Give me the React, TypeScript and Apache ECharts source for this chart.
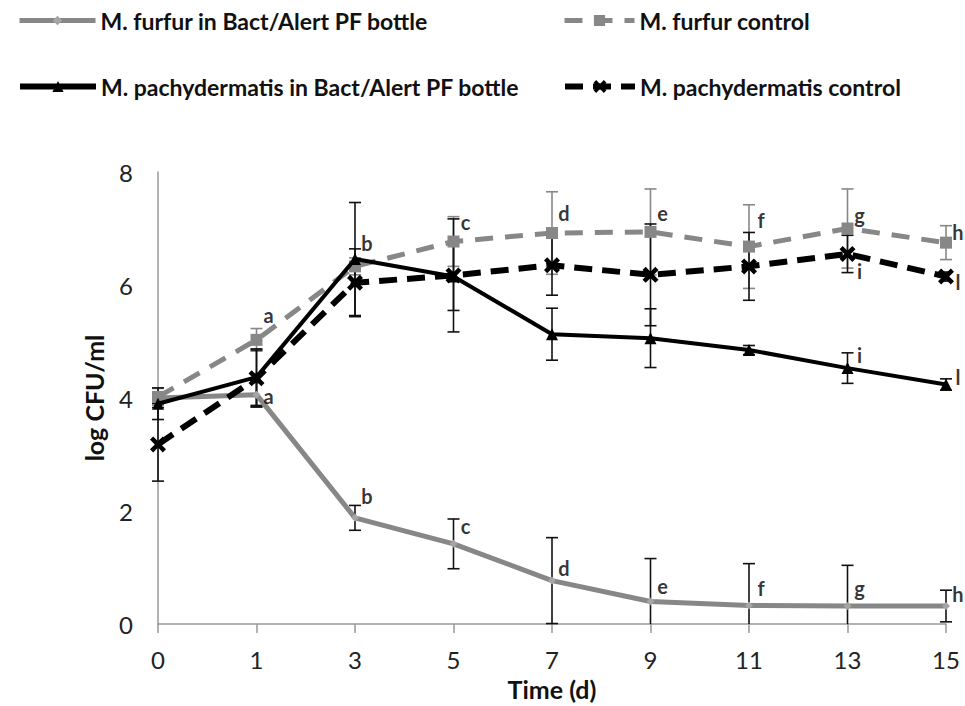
import React, { useEffect, useRef } from "react";
import * as echarts from "echarts";

const days = ["0", "1", "3", "5", "7", "9", "11", "13", "15"];
const yTicks = [0, 2, 4, 6, 8];

const nameFurfurBact = "M. furfur in Bact/Alert PF bottle";
const nameFurfurCtrl = "M. furfur control";
const namePachyBact = "M. pachydermatis in Bact/Alert PF bottle";
const namePachyCtrl = "M. pachydermatis control";

const furfurBact = [4.0, 4.06, 1.88, 1.42, 0.77, 0.4, 0.33, 0.32, 0.32];
const furfurBactErr = [0.1, 0.22, 0.22, 0.44, 0.76, 0.76, 0.74, 0.72, 0.28];
const furfurCtrl = [4.02, 5.03, 6.33, 6.77, 6.92, 6.94, 6.68, 7.0, 6.75];
const furfurCtrlErr = [0.15, 0.2, 0.15, 0.44, 0.73, 0.76, 0.74, 0.7, 0.3];
const pachyBact = [3.9, 4.37, 6.46, 6.15, 5.13, 5.06, 4.85, 4.53, 4.24];
const pachyBactErr = [0.28, 0.5, 1.0, 0.6, 0.46, 0.52, 0.08, 0.27, 0.1];
const pachyCtrl = [3.18, 4.35, 6.04, 6.17, 6.35, 6.18, 6.33, 6.55, 6.15];
const pachyCtrlErr = [0.65, 0.5, 0.6, 1.0, 0.53, 0.9, 0.6, 0.33, 0.08];

// significance letters and the y value at which each is written
const furfurBactLetters = ["a", "b", "c", "d", "e", "f", "g", "h"];
const furfurBactLetterY = [4.04, 2.27, 1.74, 1.0, 0.67, 0.63, 0.63, 0.53];
const furfurCtrlLetters = ["a", "b", "c", "d", "e", "f", "g", "h"];
const furfurCtrlLetterY = [5.47, 6.75, 7.12, 7.28, 7.28, 7.15, 7.24, 6.94];
const pachyCtrlLetters = ["i", "l"];
const pachyCtrlLetterY = [6.24, 6.05];
const pachyBactLetters = ["i", "l"];
const pachyBactLetterY = [4.76, 4.38];

const FONT = "Lato, 'Open Sans', sans-serif";
const GREY = "#878787";
const XSYM =
  "path://M2,0 L5,3 L8,0 L10,2 L7,5 L10,8 L8,10 L5,7 L2,10 L0,8 L3,5 L0,2 Z";

function errData(v: number[], e: number[]) {
  return v.map((val, i) => [i, Math.max(0, val - e[i]), val + e[i]]);
}

function errSeries(v: number[], e: number[], color: string) {
  return {
    type: "custom",
    silent: true,
    z: 1,
    encode: { x: 0, y: [1, 2] },
    data: errData(v, e),
    renderItem: (params: any, api: any) => {
      const x = api.value(0);
      const lo = api.value(1);
      const hi = api.value(2);
      const top = api.coord([x, hi]);
      const bot = api.coord([x, lo]);
      const w = 6;
      const style = { stroke: color, lineWidth: 1.6 };
      const children: any[] = [
        { type: "line", shape: { x1: top[0], y1: top[1], x2: bot[0], y2: bot[1] }, style },
        { type: "line", shape: { x1: top[0] - w, y1: top[1], x2: top[0] + w, y2: top[1] }, style },
      ];
      if (lo > 0) {
        children.push({
          type: "line",
          shape: { x1: bot[0] - w, y1: bot[1], x2: bot[0] + w, y2: bot[1] },
          style,
        });
      }
      return { type: "group", children };
    },
  };
}

function letterSeries(start: number, letters: string[], ys: number[]) {
  return {
    type: "scatter",
    silent: true,
    symbolSize: 1,
    itemStyle: { color: "rgba(0,0,0,0)" },
    z: 10,
    data: letters.map((l, i) => [start + i, ys[i], l]),
    label: {
      show: true,
      position: "inside",
      offset: [12, 0],
      formatter: (p: any) => p.value[2],
      color: "#000",
      fontFamily: FONT,
      fontWeight: "bold",
      fontSize: 20,
    },
  };
}

const legendText = {
  fontFamily: FONT,
  fontWeight: "bold" as const,
  fontSize: 23,
  color: "#111",
};

export default function App() {
  const ref = useRef<HTMLDivElement>(null);
  useEffect(() => {
    if (!ref.current) return;
    const chart = echarts.init(ref.current, null, { renderer: "svg" });
    chart.setOption({
      animation: false,
      backgroundColor: "#fff",
      legend: [
        {
          data: [nameFurfurBact], left: 12, top: 4, itemWidth: 76, itemHeight: 12,
          lineStyle: { width: 5 }, textStyle: legendText,
        },
        {
          data: [nameFurfurCtrl], left: 557, top: 4, itemWidth: 70, itemHeight: 14,
          lineStyle: { width: 5 }, textStyle: legendText,
        },
        {
          data: [namePachyBact], left: 12, top: 70, itemWidth: 76, itemHeight: 14,
          lineStyle: { width: 6 }, textStyle: legendText,
        },
        {
          data: [namePachyCtrl], left: 557, top: 70, itemWidth: 70, itemHeight: 16,
          lineStyle: { width: 6 }, textStyle: legendText,
        },
      ],
      grid: { left: 158, right: 19, top: 172, bottom: 79 },
      xAxis: {
        type: "category",
        data: days,
        boundaryGap: false,
        name: "Time (d)",
        nameLocation: "middle",
        nameGap: 50,
        nameTextStyle: { fontFamily: FONT, fontWeight: "bold", fontSize: 25, color: "#111" },
        axisLine: { lineStyle: { color: "#999", width: 1.5 } },
        axisTick: { show: true, length: 9, lineStyle: { color: "#999", width: 1.5 } },
        axisLabel: { fontFamily: FONT, fontSize: 24, color: "#222", margin: 23 },
        splitLine: { show: false },
      },
      yAxis: {
        type: "value",
        min: 0,
        max: 8,
        interval: 2,
        name: "log CFU/ml",
        nameLocation: "middle",
        nameGap: 52,
        nameTextStyle: { fontFamily: FONT, fontWeight: "bold", fontSize: 25, color: "#111" },
        axisLine: { show: true, lineStyle: { color: "#999", width: 1.5 } },
        axisTick: { show: false },
        axisLabel: {
          fontFamily: FONT,
          fontSize: 24,
          color: "#222",
          margin: 25,
          formatter: (v: number) => (yTicks.indexOf(v) >= 0 ? String(v) : ""),
        },
        splitLine: { show: false },
      },
      series: [
        errSeries(furfurBact, furfurBactErr, "#111"),
        errSeries(furfurCtrl, furfurCtrlErr, GREY),
        errSeries(pachyBact, pachyBactErr, "#111"),
        errSeries(pachyCtrl, pachyCtrlErr, "#111"),
        {
          name: nameFurfurBact,
          type: "line",
          data: furfurBact,
          symbol: "diamond",
          symbolSize: 8,
          z: 3,
          lineStyle: { color: GREY, width: 5 },
          itemStyle: { color: "#a5a5a5" },
        },
        {
          name: nameFurfurCtrl,
          type: "line",
          data: furfurCtrl,
          symbol: "rect",
          symbolSize: 12,
          z: 4,
          lineStyle: { color: GREY, width: 5, type: [18, 12] },
          itemStyle: { color: GREY },
        },
        {
          name: namePachyBact,
          type: "line",
          data: pachyBact,
          symbol: "triangle",
          symbolSize: 12,
          z: 5,
          lineStyle: { color: "#000", width: 4 },
          itemStyle: { color: "#000" },
        },
        {
          name: namePachyCtrl,
          type: "line",
          data: pachyCtrl,
          symbol: XSYM,
          symbolSize: 16,
          z: 6,
          lineStyle: { color: "#000", width: 6, type: [18, 10] },
          itemStyle: { color: "#000" },
        },
        letterSeries(1, furfurBactLetters, furfurBactLetterY),
        letterSeries(1, furfurCtrlLetters, furfurCtrlLetterY),
        letterSeries(7, pachyCtrlLetters, pachyCtrlLetterY),
        letterSeries(7, pachyBactLetters, pachyBactLetterY),
      ],
    });
    return () => chart.dispose();
  }, []);
  return (
    <div
      ref={ref}
      style={{ position: "fixed", left: 0, top: 0, width: 965, height: 706 }}
    />
  );
}
